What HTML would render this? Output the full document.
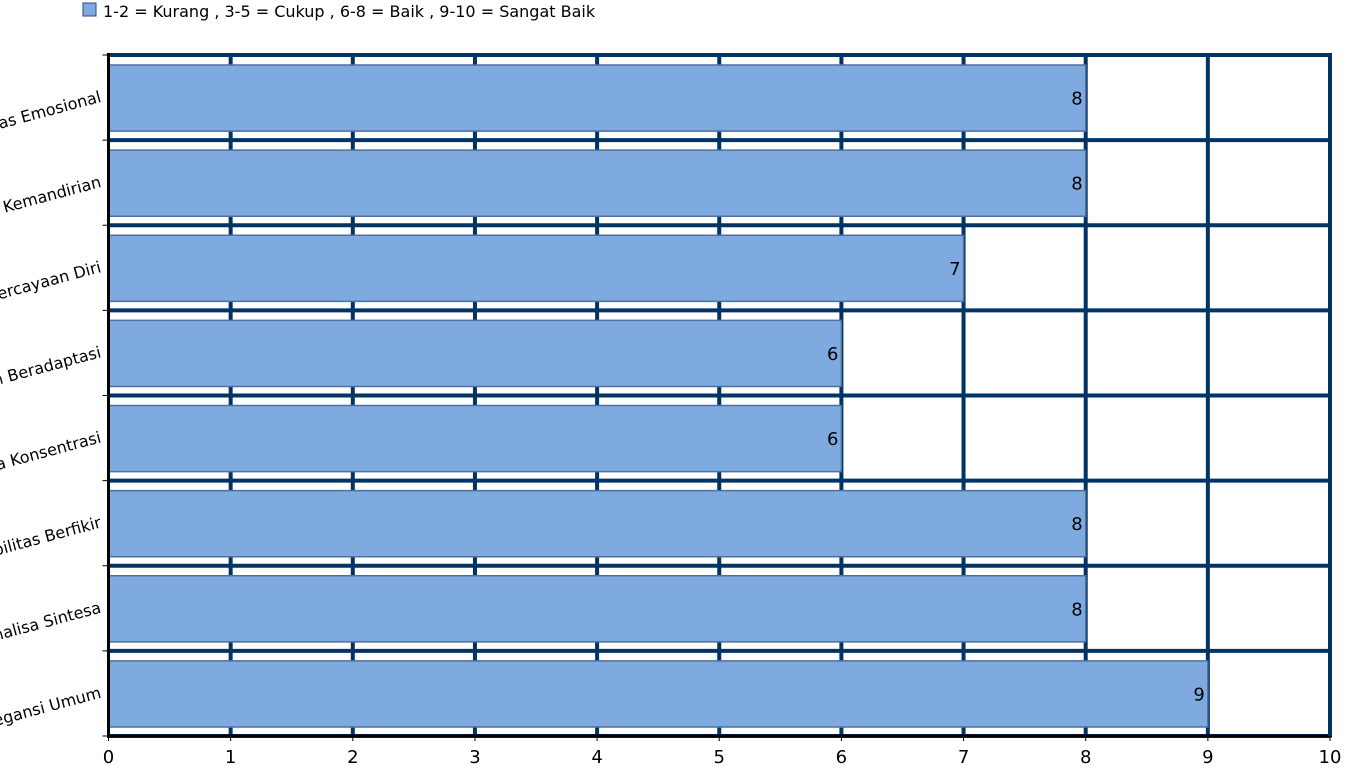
<!DOCTYPE html>
<html><head><meta charset="utf-8"><style>
body{margin:0;background:#fff;width:1353px;height:769px;overflow:hidden;font-family:"DejaVu Sans","Liberation Sans",sans-serif}
</style></head><body>
<svg id="c" width="1353" height="769"></svg>
<script>
const categories=["Stabilitas Emosional","Kemandirian","Kepercayaan Diri","Kemampuan Beradaptasi","Daya Konsentrasi","Fleksibilitas Berfikir","Analisa Sintesa","Intelegansi Umum"];
const values=[8,8,7,6,6,8,8,9];
const xTicks=[0,1,2,3,4,5,6,7,8,9,10];
const legendText="1-2 = Kurang , 3-5 = Cukup , 6-8 = Baik , 9-10 = Sangat Baik";
const NS="http://www.w3.org/2000/svg";
const svg=document.getElementById('c');
const L=108.5,R=1330,T=55,B=736;
const xs=v=>L+(R-L)*v/10;
const rowH=(B-T)/categories.length;
function mk(t,a,p){const e=document.createElementNS(NS,t);for(const k in a)e.setAttribute(k,a[k]);(p||svg).appendChild(e);return e;}
const ls=mk('rect',{x:83,y:3,width:13,height:13,fill:'#7eaae0',stroke:'#2b4a78','stroke-width':1});


const lt=mk('text',{x:103,y:17,'font-size':16,fill:'#000'});lt.textContent=legendText;


xTicks.forEach(v=>{
 if(v>0){const g=mk('line',{x1:xs(v),x2:xs(v),y1:T,y2:B,stroke:'#003366','stroke-width':4});
 
 }
 mk('line',{x1:xs(v),x2:xs(v),y1:B,y2:B+5,stroke:'#000','stroke-width':1});
 const t=mk('text',{x:xs(v),y:763,'font-size':18,'text-anchor':'middle',fill:'#000'});t.textContent=v;
 
 
});
for(let i=0;i<=categories.length;i++){
 const y=T+rowH*i;
 const g=mk('line',{x1:L,x2:R,y1:y,y2:y,stroke:'#003366','stroke-width':4});
 
 
 mk('line',{x1:L-6,x2:L,y1:y,y2:y,stroke:'#000','stroke-width':1});
}
categories.forEach((c,i)=>{
 const y0=T+rowH*i;
 const b=mk('rect',{x:L,y:y0+10,width:xs(values[i])-L,height:rowH-19,fill:'#7eaae0',stroke:'#4f6f9f','stroke-width':1.5});
 
 
 const v=mk('text',{x:xs(values[i])-3,y:y0+rowH/2+7,'font-size':18,'text-anchor':'end',fill:'#000'});v.textContent=values[i];
 
 
 const cy=y0+rowH/2+4;
 const t=mk('text',{x:102,y:cy,'font-size':16,'text-anchor':'end',fill:'#000',transform:`rotate(-15 102 ${cy})`});t.textContent=c;
 
 
});
mk('line',{x1:L,x2:L,y1:T-2,y2:B+2,stroke:'#000','stroke-width':3});
mk('line',{x1:L,x2:R+2,y1:B,y2:B,stroke:'#000','stroke-width':3});
mk('line',{x1:R,x2:R,y1:T-2,y2:B,stroke:'#003366','stroke-width':4});
</script>
</body></html>
